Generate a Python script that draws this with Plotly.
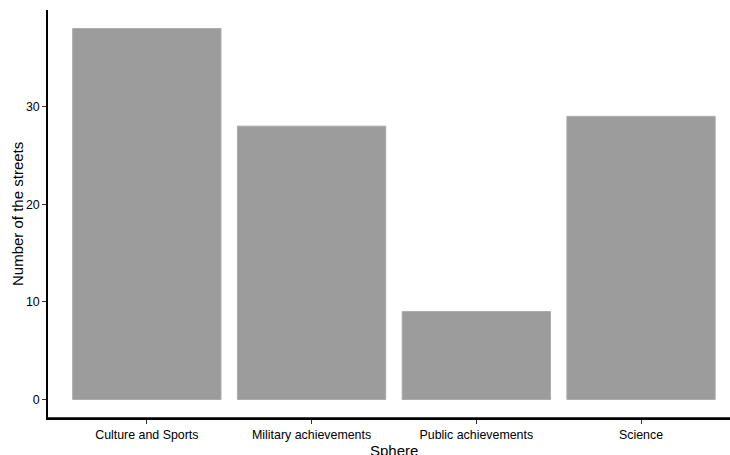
import plotly.graph_objects as go

categories = ["Culture and Sports", "Military achievements", "Public achievements", "Science"]
counts = [38, 28, 9, 29]
y_ticks = [0, 10, 20, 30]

positions = list(range(1, len(categories) + 1))

fig = go.Figure(go.Bar(
    x=positions, y=counts, width=0.9,
    marker=dict(color="#9c9c9c", line=dict(color="#a9a9a9", width=1)),
))

font_family = "Liberation Sans, Arial, sans-serif"
fig.update_layout(
    width=730, height=455,
    margin=dict(l=48, r=0, t=10, b=36.5),
    plot_bgcolor="white", paper_bgcolor="white",
    showlegend=False,
    hovermode=False,
    modebar=dict(bgcolor="rgba(0,0,0,0)", color="rgba(0,0,0,0)",
                 activecolor="rgba(0,0,0,0)"),
    font=dict(family=font_family, color="black", size=12),
    xaxis=dict(
        range=[0.4, 4.54], tickvals=positions, ticktext=categories,
        showline=True, linecolor="black", linewidth=1.5,
        ticks="outside", ticklen=4, tickcolor="#333333", tickwidth=1,
        showgrid=False, zeroline=False, tickfont=dict(size=12.4, color="black"),
    ),
    yaxis=dict(
        range=[-1.9, 39.9], tickvals=y_ticks,
        showline=True, linecolor="black", linewidth=1.5,
        ticks="outside", ticklen=4, tickcolor="#333333", tickwidth=1,
        showgrid=False, zeroline=False, tickfont=dict(size=12.4, color="black"),
    ),
    shapes=[
        # axis frame line along the bottom of the plot area (reinforces the x axis line)
        dict(type="line", xref="paper", yref="paper", x0=0, x1=1, y0=0, y1=0,
             line=dict(color="black", width=1.5), layer="above"),
    ],
    annotations=[
        dict(text="Sphere", x=2.5, xref="x", y=0, yref="paper",
             yanchor="top", showarrow=False, yshift=-22,
             font=dict(size=15, color="black")),
        dict(text="Number of the streets", x=0, xref="paper", y=0.5, yref="paper",
             xanchor="center", xshift=-31,
             textangle=-90, showarrow=False, font=dict(size=15, color="black")),
    ],
)

fig.write_html(
    "out.html",
    post_script=(
        "document.body.style.margin='0';document.body.style.overflow='hidden';"
        "var s=document.createElement('style');"
        "s.textContent='.modebar-container{display:none !important;}';"
        "document.head.appendChild(s);"
    ),
)
